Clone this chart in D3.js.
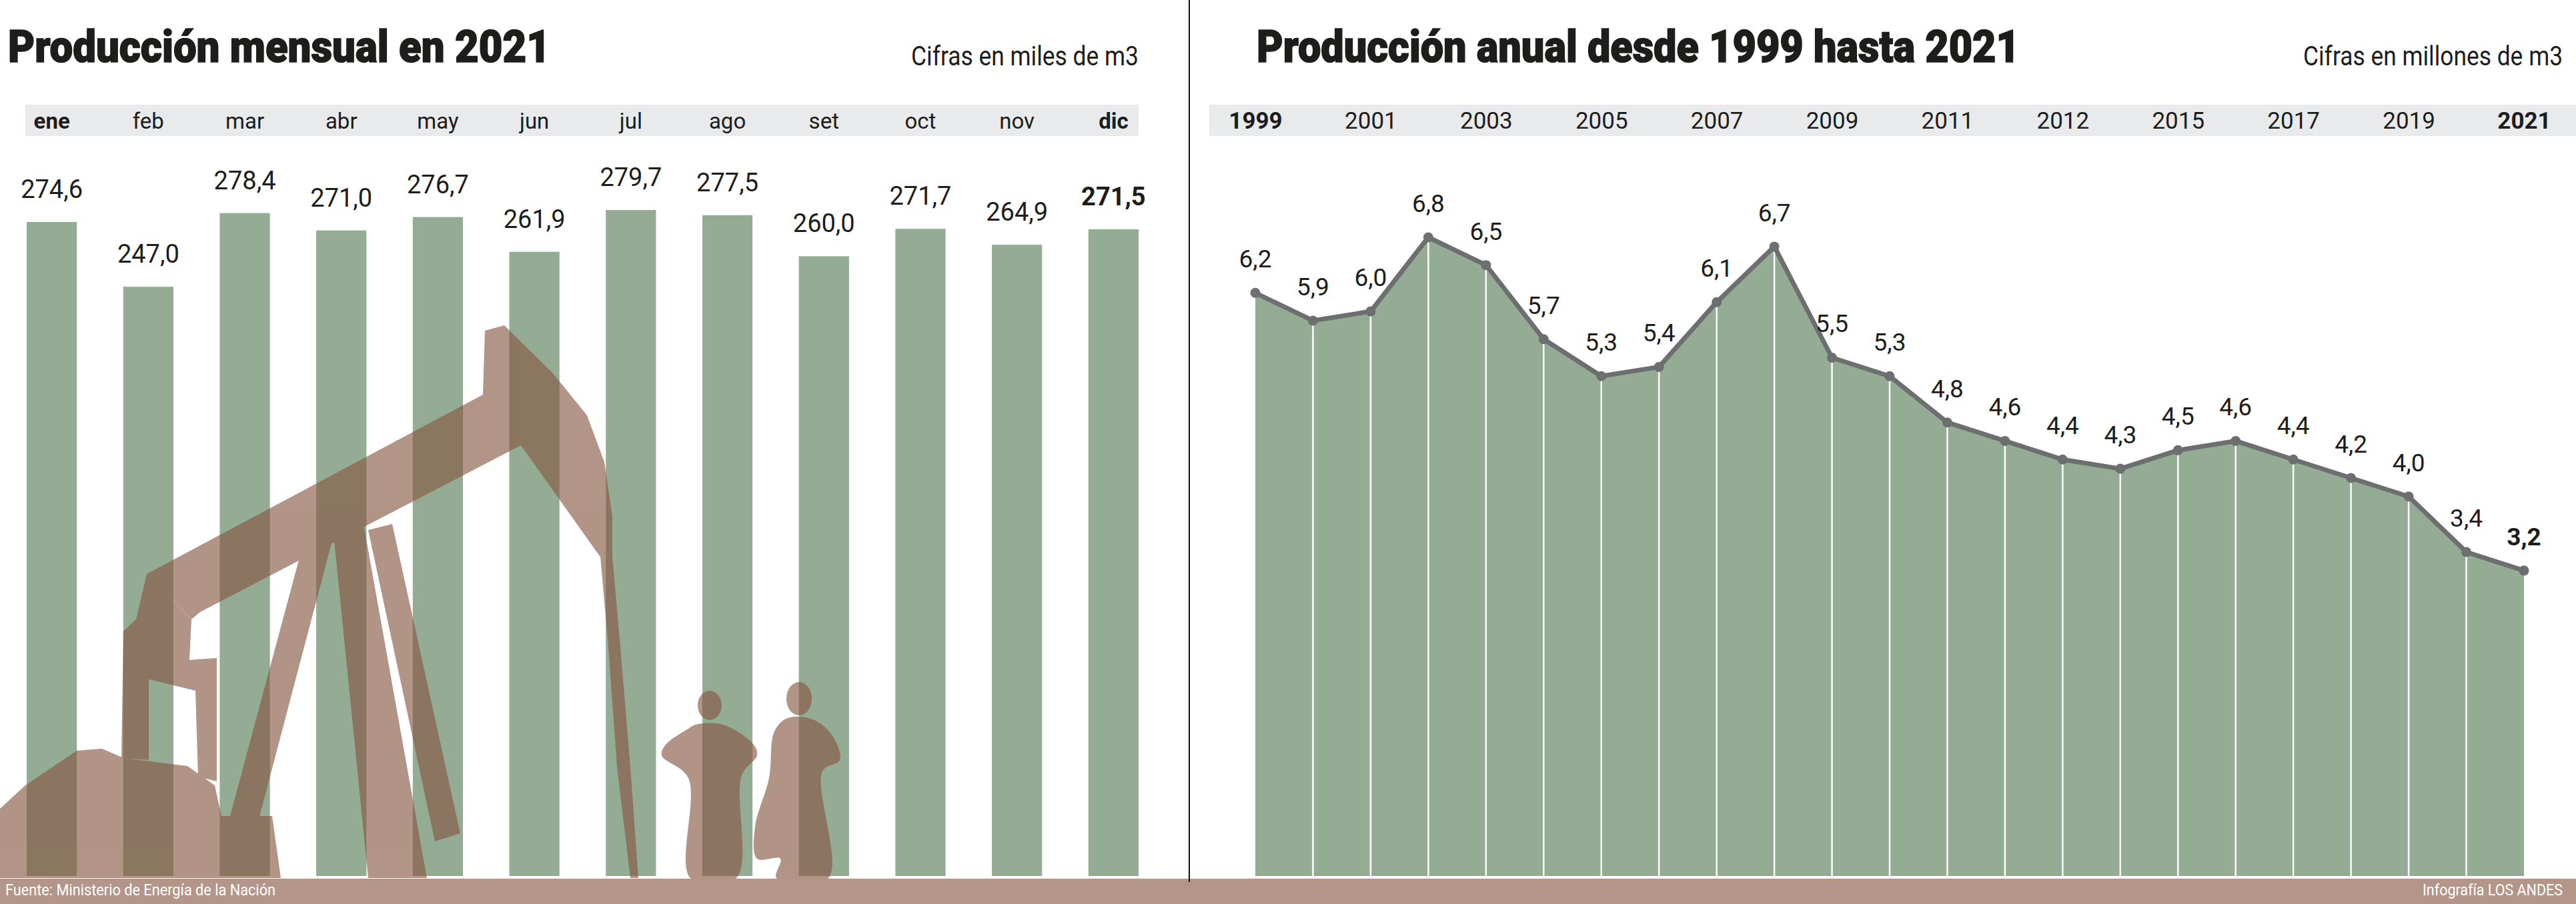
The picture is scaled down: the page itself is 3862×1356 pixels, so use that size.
<!DOCTYPE html>
<html>
<head>
<meta charset="utf-8">
<script src="https://cdn.jsdelivr.net/npm/d3@7"></script>
<style>
  html, body { margin: 0; padding: 0; background: #fff; }
  svg { display: block; }
  text { font-family: Roboto, "Open Sans", sans-serif; }
</style>
</head>
<body>
<svg id="chart"></svg>
<script>
// monthly production 2021 (thousand m3)
const months = ["ene", "feb", "mar", "abr", "may", "jun", "jul", "ago", "set", "oct", "nov", "dic"];
const monthValues = [274.6, 247.0, 278.4, 271.0, 276.7, 261.9, 279.7, 277.5, 260.0, 271.7, 264.9, 271.5];

// yearly production 1999-2021 (million m3)
const years = d3.range(1999, 2022);
const yearValues = [6.2, 5.9, 6.0, 6.8, 6.5, 5.7, 5.3, 5.4, 6.1, 6.7, 5.5, 5.3, 4.8, 4.6, 4.4, 4.3, 4.5, 4.6, 4.4, 4.2, 4.0, 3.4, 3.2];

// year tick labels as printed (the 2013 slot reads "2012" in the original)
const yearTicks = [1999, 2001, 2003, 2005, 2007, 2009, 2011, 2013, 2015, 2017, 2019, 2021];
const yearTickLabels = ["1999", "2001", "2003", "2005", "2007", "2009", "2011", "2012", "2015", "2017", "2019", "2021"];

const W = 3862, H = 1356;
const green = "#94ab94", band = "#e8eaec", brown = "#b39689", ink = "#1d1d1b", lineGray = "#6d6e70";
const base = 1314;

const svg = d3.select("#chart").attr("width", W).attr("height", H);

// ---------- left: monthly bars ----------
const x = d3.scaleBand().domain(months).range([40, 1707]).paddingInner(0.48).paddingOuter(0);
const y = d3.scaleLinear().domain([-4, 279.7]).range([base, 315]);

svg.append("text")
    .attr("x", 12).attr("y", 93)
    .attr("font-size", 66).attr("font-weight", 900).attr("fill", ink)
    .attr("stroke", ink).attr("stroke-width", 1.6)
    .attr("textLength", 813).attr("lengthAdjust", "spacingAndGlyphs")
    .text("Producción mensual en 2021");

svg.append("text")
    .attr("x", 1707).attr("y", 98)
    .attr("text-anchor", "end")
    .attr("font-size", 41).attr("fill", ink)
    .attr("textLength", 341).attr("lengthAdjust", "spacingAndGlyphs")
    .text("Cifras en miles de m3");

svg.append("rect").attr("x", 38).attr("y", 157).attr("width", 1669).attr("height", 47).attr("fill", band);

svg.append("g")
    .attr("transform", "translate(0,193)")
    .call(d3.axisTop(x).tickSize(0).tickPadding(0))
    .call(g => g.select(".domain").remove())
    .selectAll("text")
    .attr("font-size", 33)
    .attr("fill", ink)
    .attr("font-weight", (d, i) => (i === 0 || i === months.length - 1) ? 700 : 400)
    .attr("dy", 0);

svg.append("g").selectAll("rect")
    .data(monthValues)
    .join("rect")
    .attr("x", (d, i) => x(months[i]))
    .attr("y", d => y(d))
    .attr("width", x.bandwidth())
    .attr("height", d => y.range()[0] - y(d))
    .attr("fill", green);

// decorative pump jack and workers silhouette
const pumpShapes = [
    [[220,861],[724,592],[727,496],[756,488],[829,560],[880,623],[906,693],[918,774],[918,834],[899,834],[781,668],[300,918],[287,929]],
    [[220,861],[287,929],[284,990],[325,987],[325,1172],[297,1165],[293,1036],[223,1019],[223,1140],[182,1137],[185,947],[204,929]],
    [[0,1213],[38,1178],[115,1126],[153,1123],[185,1137],[281,1149],[322,1178],[332,1224],[408,1224],[421,1317],[0,1317]],
    [[448,840],[497,815],[385,1240],[338,1250]],
    [[500,800],[545,786],[640,1317],[552,1317]],
    [[552,795],[588,786],[690,1250],[652,1262]],
    [[900,834],[918,834],[930,970],[945,1150],[957,1317],[945,1317],[925,1150],[912,970]]
];
const people = [
    [[1043,1087],[1084,1087],[1130,1117],[1135,1133],[1112,1163],[1104,1317],[1035,1317],[1032,1167],[992,1133],[998,1117],[1032,1093]],
    [[1181,1077],[1221,1080],[1250,1107],[1259,1140],[1233,1157],[1242,1317],[1164,1317],[1170,1288],[1135,1288],[1132,1240],[1153,1167],[1161,1097]]
];
const heads = [[1064,1058,18,22],[1198,1048,19,25]];

const sil = svg.append("g").attr("opacity", 0.63).attr("fill", "#865742");
sil.selectAll("path.pump").data(pumpShapes).join("path")
    .attr("class", "pump")
    .attr("d", d3.line().curve(d3.curveLinearClosed));
sil.selectAll("path.person").data(people).join("path")
    .attr("class", "person")
    .attr("d", d3.line().curve(d3.curveCatmullRomClosed.alpha(0.5)));
sil.selectAll("ellipse").data(heads).join("ellipse")
    .attr("cx", d => d[0]).attr("cy", d => d[1]).attr("rx", d => d[2]).attr("ry", d => d[3]);

svg.append("g").selectAll("text")
    .data(monthValues)
    .join("text")
    .attr("x", (d, i) => x(months[i]) + x.bandwidth() / 2)
    .attr("y", d => y(d) - 36)
    .attr("text-anchor", "middle")
    .attr("font-size", 38)
    .attr("font-weight", (d, i) => i === monthValues.length - 1 ? 700 : 400)
    .attr("fill", ink)
    .text(d => d3.format(".1f")(d).replace(".", ","));

// ---------- right: yearly area ----------
const xr = d3.scaleLinear().domain([1999, 2021]).range([1882, 3784]);
const yr = d3.scaleLinear().domain([-0.1, 6.8]).range([base, 356]);

svg.append("text")
    .attr("x", 1884).attr("y", 93)
    .attr("font-size", 66).attr("font-weight", 900).attr("fill", ink)
    .attr("stroke", ink).attr("stroke-width", 1.6)
    .attr("textLength", 1144).attr("lengthAdjust", "spacingAndGlyphs")
    .text("Producción anual desde 1999 hasta 2021");

svg.append("text")
    .attr("x", 3842).attr("y", 98)
    .attr("text-anchor", "end")
    .attr("font-size", 41).attr("fill", ink)
    .attr("textLength", 389).attr("lengthAdjust", "spacingAndGlyphs")
    .text("Cifras en millones de m3");

svg.append("rect").attr("x", 1813).attr("y", 157).attr("width", W - 1813).attr("height", 47).attr("fill", band);

svg.append("g")
    .attr("transform", "translate(0,193)")
    .call(d3.axisTop(xr).tickValues(yearTicks).tickSize(0).tickPadding(0)
        .tickFormat((d, i) => yearTickLabels[i]))
    .call(g => g.select(".domain").remove())
    .selectAll("text")
    .attr("font-size", 35)
    .attr("fill", ink)
    .attr("font-weight", (d, i) => (i === 0 || i === yearTicks.length - 1) ? 700 : 400);

const pts = years.map((yy, i) => ({ year: yy, v: yearValues[i] }));

svg.append("path")
    .datum(pts)
    .attr("fill", green)
    .attr("d", d3.area()
        .x(d => xr(d.year))
        .y0(yr(yr.domain()[0]))
        .y1(d => yr(d.v)));

svg.append("g").selectAll("line")
    .data(pts.slice(1, -1))
    .join("line")
    .attr("x1", d => xr(d.year)).attr("x2", d => xr(d.year))
    .attr("y1", d => yr(d.v)).attr("y2", yr(yr.domain()[0]))
    .attr("stroke", "#fff").attr("stroke-width", 2.5);

svg.append("path")
    .datum(pts)
    .attr("fill", "none")
    .attr("stroke", lineGray)
    .attr("stroke-width", 7)
    .attr("stroke-linejoin", "round")
    .attr("d", d3.line().x(d => xr(d.year)).y(d => yr(d.v)));

svg.append("g").selectAll("circle")
    .data(pts)
    .join("circle")
    .attr("cx", d => xr(d.year)).attr("cy", d => yr(d.v)).attr("r", 7.5)
    .attr("fill", lineGray);

svg.append("g").selectAll("text")
    .data(pts)
    .join("text")
    .attr("x", d => xr(d.year))
    .attr("y", d => yr(d.v) - 38)
    .attr("text-anchor", "middle")
    .attr("font-size", 37)
    .attr("font-weight", (d, i) => i === pts.length - 1 ? 700 : 400)
    .attr("fill", ink)
    .text(d => d3.format(".1f")(d.v).replace(".", ","));

// ---------- footer ----------
svg.append("rect").attr("x", 0).attr("y", 1318).attr("width", W).attr("height", H - 1318).attr("fill", brown);

svg.append("line")
    .attr("x1", 1783).attr("x2", 1783).attr("y1", 0).attr("y2", 1323)
    .attr("stroke", "#111").attr("stroke-width", 2);

svg.append("text")
    .attr("x", 8).attr("y", 1343)
    .attr("font-size", 24).attr("fill", "#fff")
    .attr("font-family", "'Open Sans', sans-serif")
    .attr("textLength", 405).attr("lengthAdjust", "spacingAndGlyphs")
    .text("Fuente: Ministerio de Energía de la Nación");

svg.append("text")
    .attr("x", 3842).attr("y", 1343)
    .attr("text-anchor", "end")
    .attr("font-size", 24).attr("fill", "#fff")
    .attr("font-family", "'Open Sans', sans-serif")
    .attr("textLength", 210).attr("lengthAdjust", "spacingAndGlyphs")
    .text("Infografía LOS ANDES");
</script>
</body>
</html>
